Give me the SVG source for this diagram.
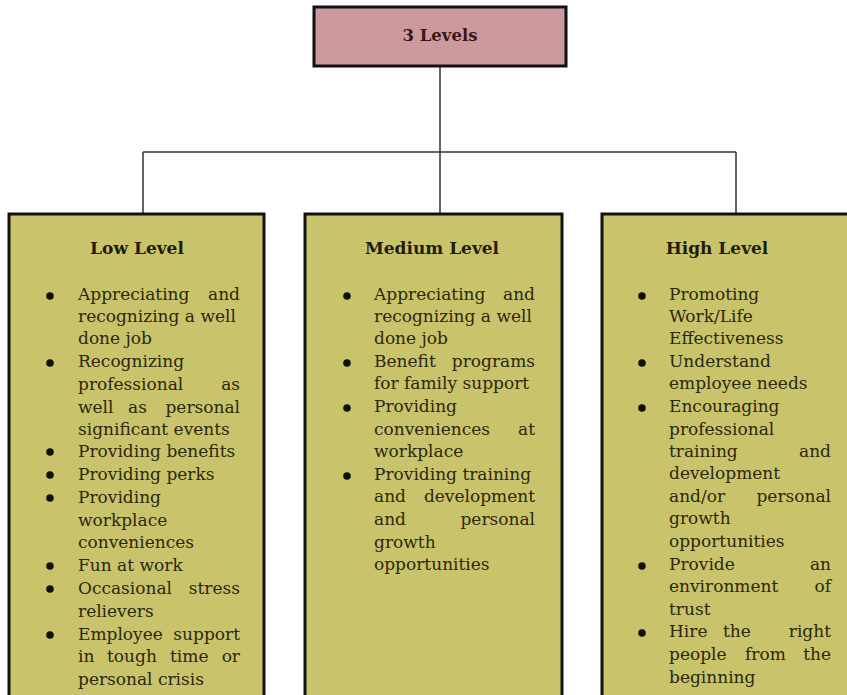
<svg xmlns="http://www.w3.org/2000/svg" width="847" height="695" viewBox="0 0 847 695">
<style>
.box{fill:#c9c46b;stroke:#111;stroke-width:3}
.top{fill:#cc9a9c;stroke:#111;stroke-width:3}
.t{font-family:"DejaVu Serif","Liberation Serif",serif;font-size:17px;fill:#2b280c}
.h{font-family:"DejaVu Serif","Liberation Serif",serif;font-size:17px;font-weight:bold;fill:#1f1d0a;text-anchor:middle}
.e{text-anchor:end}
.b{fill:#111}
.c{fill:none;stroke:#333;stroke-width:1.5}
</style>
<rect width="847" height="695" fill="#fff"/>
<g id="connectors">
<path class="c" d="M440 67V152M143 152H736M143 152V214M440 152V214M736 152V214"/>
</g>
<g id="top">
<rect class="top" x="314" y="7" width="252" height="59"/>
<text class="h" x="440" y="41" style="fill:#3a1616;font-size:16.5px">3 Levels</text>
</g>
<g id="low">
<rect class="box" x="9" y="214" width="255" height="490"/>
<text class="h" x="137" y="254">Low Level</text>
<g class="b"><circle cx="50" cy="296" r="3.8"/><circle cx="50" cy="363" r="3.8"/><circle cx="50" cy="452" r="3.8"/><circle cx="50" cy="475" r="3.8"/><circle cx="50" cy="498" r="3.8"/><circle cx="50" cy="566" r="3.8"/><circle cx="50" cy="589" r="3.8"/><circle cx="50" cy="635" r="3.8"/></g>
<text class="t" x="78" y="300">Appreciating</text><text class="t e" x="240" y="300">and</text>
<text class="t" x="78" y="322">recognizing a well</text>
<text class="t" x="78" y="344">done job</text>
<text class="t" x="78" y="367">Recognizing</text>
<text class="t" x="78" y="390">professional</text><text class="t e" x="240" y="390">as</text>
<text class="t" x="78" y="413">well</text><text class="t" x="128" y="413">as</text><text class="t e" x="240" y="413">personal</text>
<text class="t" x="78" y="435">significant events</text>
<text class="t" x="78" y="457">Providing benefits</text>
<text class="t" x="78" y="480">Providing perks</text>
<text class="t" x="78" y="503">Providing</text>
<text class="t" x="78" y="526">workplace</text>
<text class="t" x="78" y="548">conveniences</text>
<text class="t" x="78" y="571">Fun at work</text>
<text class="t" x="78" y="594">Occasional</text><text class="t e" x="240" y="594">stress</text>
<text class="t" x="78" y="617">relievers</text>
<text class="t" x="78" y="640">Employee</text><text class="t e" x="240" y="640">support</text>
<text class="t" x="78" y="662">in</text><text class="t" x="107" y="662">tough</text><text class="t" x="170" y="662">time</text><text class="t e" x="240" y="662">or</text>
<text class="t" x="78" y="685">personal crisis</text>
</g>
<g id="medium">
<rect class="box" x="305" y="214" width="257" height="490"/>
<text class="h" x="432" y="254">Medium Level</text>
<g class="b"><circle cx="347" cy="296" r="3.8"/><circle cx="347" cy="363" r="3.8"/><circle cx="347" cy="408" r="3.8"/><circle cx="347" cy="476" r="3.8"/></g>
<text class="t" x="374" y="300">Appreciating</text><text class="t e" x="535" y="300">and</text>
<text class="t" x="374" y="322">recognizing a well</text>
<text class="t" x="374" y="344">done job</text>
<text class="t" x="374" y="367">Benefit</text><text class="t e" x="535" y="367">programs</text>
<text class="t" x="374" y="389">for family support</text>
<text class="t" x="374" y="412">Providing</text>
<text class="t" x="374" y="435">conveniences</text><text class="t e" x="535" y="435">at</text>
<text class="t" x="374" y="457">workplace</text>
<text class="t" x="374" y="480">Providing training</text>
<text class="t" x="374" y="502">and</text><text class="t e" x="535" y="502">development</text>
<text class="t" x="374" y="525">and</text><text class="t e" x="535" y="525">personal</text>
<text class="t" x="374" y="548">growth</text>
<text class="t" x="374" y="570">opportunities</text>
</g>
<g id="high">
<rect class="box" x="602" y="214" width="260" height="490"/>
<text class="h" x="717" y="254">High Level</text>
<g class="b"><circle cx="642" cy="296" r="3.8"/><circle cx="642" cy="363" r="3.8"/><circle cx="642" cy="408" r="3.8"/><circle cx="642" cy="566" r="3.8"/><circle cx="642" cy="633" r="3.8"/></g>
<text class="t" x="669" y="300">Promoting</text>
<text class="t" x="669" y="322">Work/Life</text>
<text class="t" x="669" y="344">Effectiveness</text>
<text class="t" x="669" y="367">Understand</text>
<text class="t" x="669" y="389">employee needs</text>
<text class="t" x="669" y="412">Encouraging</text>
<text class="t" x="669" y="435">professional</text>
<text class="t" x="669" y="457">training</text><text class="t e" x="831" y="457">and</text>
<text class="t" x="669" y="479">development</text>
<text class="t" x="669" y="502">and/or</text><text class="t e" x="831" y="502">personal</text>
<text class="t" x="669" y="524">growth</text>
<text class="t" x="669" y="547">opportunities</text>
<text class="t" x="669" y="570">Provide</text><text class="t e" x="831" y="570">an</text>
<text class="t" x="669" y="592">environment</text><text class="t e" x="831" y="592">of</text>
<text class="t" x="669" y="615">trust</text>
<text class="t" x="669" y="637">Hire</text><text class="t" x="723" y="637">the</text><text class="t e" x="831" y="637">right</text>
<text class="t" x="669" y="660">people</text><text class="t" x="745" y="660">from</text><text class="t e" x="831" y="660">the</text>
<text class="t" x="669" y="683">beginning</text>
</g>
</svg>
